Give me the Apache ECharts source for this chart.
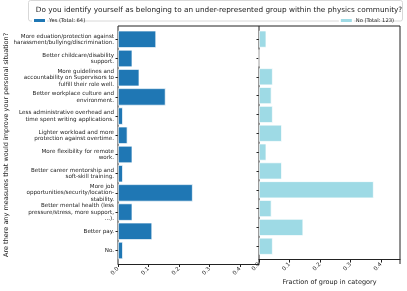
<!DOCTYPE html>
<html><head><meta charset="utf-8">
<script src="https://cdn.jsdelivr.net/npm/echarts@6/dist/echarts.min.js"></script>
<style>html,body{margin:0;padding:0;background:#fff}#c{width:407px;height:291px}</style>
</head><body><div id="c"></div>
<script>
const categories = [
  "More eduation/protection against\nharassment/bullying/discrimination.",
  "Better childcare/disability\nsupport.",
  "More guidelines and\naccountability on Supervisors to\nfulfill their role well.",
  "Better workplace culture and\nenvironment.",
  "Less administrative overhead and\ntime spent writing applications.",
  "Lighter workload and more\nprotection against overtime.",
  "More flexibility for remote\nwork.",
  "Better career mentorship and\nsoft-skill training.",
  "More job\nopportunities/security/location-\nstability.",
  "Better mental health (less\npressure/stress, more support,\n...).",
  "Better pay.",
  "No."
];
const yesValues = [0.125, 0.047, 0.07, 0.156, 0.016, 0.031, 0.047, 0.016, 0.245, 0.047, 0.112, 0.016];
const noValues  = [0.024, 0, 0.045, 0.041, 0.045, 0.075, 0.024, 0.075, 0.376, 0.041, 0.145, 0.045];
const xTicks = [0, 0.1, 0.2, 0.3, 0.4];
const yesName = "Yes (Total: 64)";
const noName = "No (Total: 123)";
const titleText = "Do you identify yourself as belonging to an under-represented group within the physics community?";
const yLabel = "Are there any measures that would improve your personal situation?";
const xLabel = "Fraction of group in category";

const FONT = "DejaVu Sans";
const INK = "#222";
const L0 = 118, L1 = 259, W = 141, TOP = 29.7, H = 230.4;
const FT = 26, FB = 264, FR = 400;

function xAxisCfg(gi, withName) {
  return {
    type: 'value', gridIndex: gi, min: 0, max: 0.4623, offset: FB - (TOP + H),
    axisLine: {show: true, lineStyle: {color: INK, width: 1}},
    axisTick: {show: true, length: 3, customValues: xTicks, lineStyle: {color: INK}},
    splitLine: {show: false},
    axisLabel: {customValues: xTicks, rotate: 45, fontSize: 5.6, color: INK, fontFamily: FONT, margin: 4,
      formatter: v => Number(v).toFixed(1)},
    name: withName ? xLabel : '', nameLocation: 'middle', nameGap: 17,
    nameTextStyle: {fontSize: 6.5, color: INK, fontFamily: FONT}
  };
}

const chart = echarts.init(document.getElementById('c'), null, {renderer: 'canvas'});
chart.setOption({
  animation: false,
  backgroundColor: '#fff',
  title: {text: titleText, left: 214, textAlign: 'center', top: 1.5,
    textStyle: {fontSize: 7.3, fontWeight: 'normal', color: INK, fontFamily: FONT}},
  legend: [
    {data: [yesName], left: 27, top: 12, itemWidth: 13, itemHeight: 5, itemGap: 4,
      textStyle: {fontSize: 5.2, color: INK, fontFamily: FONT, padding: [0,0,0,-2]}},
    {data: [noName], right: 8, top: 12, itemWidth: 13, itemHeight: 5,
      textStyle: {fontSize: 5.2, color: INK, fontFamily: FONT, padding: [0,0,0,-2]}}
  ],
  grid: [
    {left: L0, top: TOP, width: W, height: H},
    {left: L1, top: TOP, width: W, height: H}
  ],
  xAxis: [xAxisCfg(0, false), xAxisCfg(1, true)],
  yAxis: [
    {type: 'category', gridIndex: 0, data: categories, inverse: true,
      axisLine: {show: false},
      axisTick: {show: true, alignWithLabel: true, length: 2.5, lineStyle: {color: INK}},
      axisLabel: {fontSize: 5.6, lineHeight: 6.5, color: INK, fontFamily: FONT, margin: 4, align: 'right'},
      name: yLabel, nameLocation: 'middle', nameGap: 107, nameRotate: 90,
      nameTextStyle: {fontSize: 6.5, color: INK, fontFamily: FONT}},
    {type: 'category', gridIndex: 1, data: categories, inverse: true,
      axisLine: {show: false},
      axisTick: {show: true, alignWithLabel: true, length: 2.5, lineStyle: {color: INK}},
      axisLabel: {show: false}}
  ],
  series: [
    {name: yesName, type: 'bar', xAxisIndex: 0, yAxisIndex: 0, data: yesValues, barWidth: '90%',
      itemStyle: {color: '#1f77b4', borderColor: '#ffffff', borderWidth: 0.7}},
    {name: noName, type: 'bar', xAxisIndex: 1, yAxisIndex: 1, data: noValues, barWidth: '90%',
      itemStyle: {color: '#9edae5', borderColor: '#ffffff', borderWidth: 0.7}}
  ],
  graphic: [
    {type: 'rect', shape: {x: 28.5, y: 0.5, width: 374, height: 20.5, r: 2}, silent: true, z: -1,
      style: {fill: 'rgba(255,255,255,0.8)', stroke: '#d8d8d8', lineWidth: 1}},
    {type: 'line', shape: {x1: L0, y1: FT, x2: FR, y2: FT}, style: {stroke: INK, lineWidth: 1}},
    {type: 'line', shape: {x1: FR, y1: FT, x2: FR, y2: FB}, style: {stroke: INK, lineWidth: 1}},
    {type: 'line', shape: {x1: L0, y1: FT, x2: L0, y2: FB}, style: {stroke: INK, lineWidth: 1}},
    {type: 'line', shape: {x1: L1, y1: FT, x2: L1, y2: FB}, style: {stroke: INK, lineWidth: 1}}
  ]
});
</script></body></html>
